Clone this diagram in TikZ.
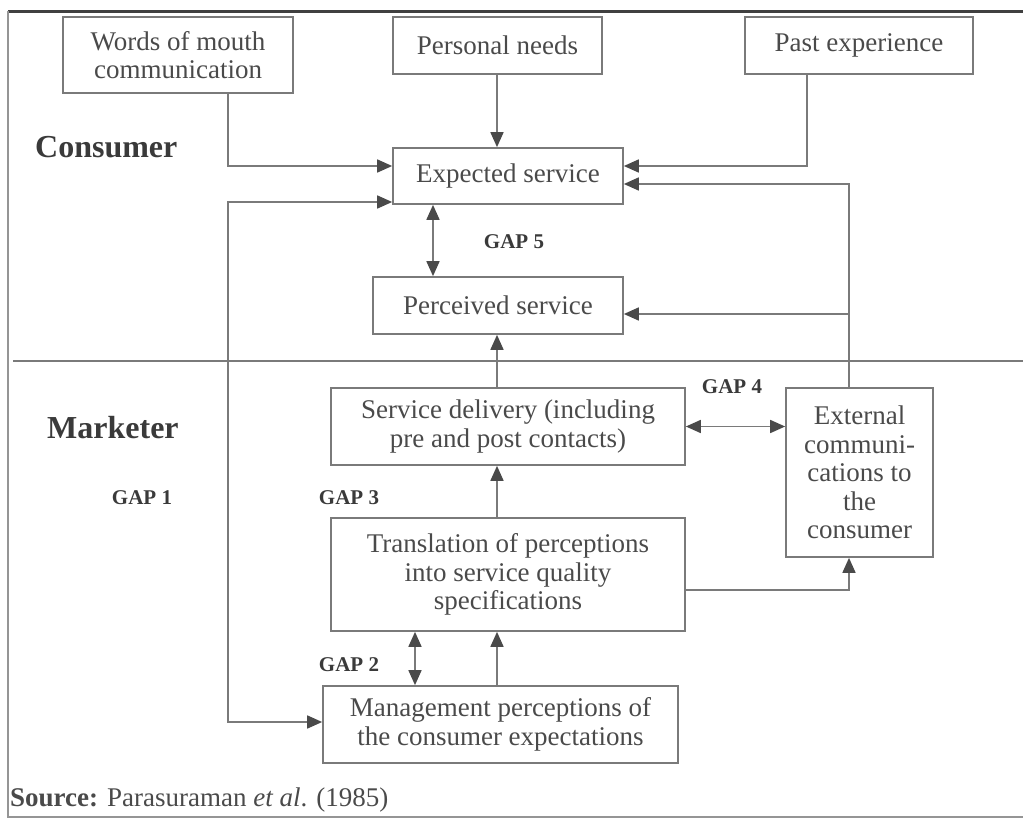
\documentclass[tikz,border=0pt]{standalone}
\usepackage{fontspec}
\setmainfont{Liberation Serif}
\usetikzlibrary{arrows.meta,calc}
\definecolor{boxline}{HTML}{7A7A7A}
\definecolor{txt}{HTML}{4A4A4A}
\definecolor{lbl}{HTML}{3A3A3A}
\definecolor{tip}{HTML}{4A4A4A}
\begin{document}
\begin{tikzpicture}[x=1pt,y=-1pt,
  box/.style={draw=boxline,line width=1.7pt,inner sep=0pt,align=center,text=txt,
    font=\fontsize{27}{28.5}\selectfont},
  lab/.style={text=lbl,font=\fontsize{32}{34}\selectfont\bfseries,inner sep=0pt},
  gap/.style={text=lbl,font=\fontsize{21}{23}\selectfont\bfseries,inner sep=0pt},
  conn/.style={draw=boxline,line width=1.7pt},
  arr/.style={conn,-{Triangle[length=15pt,width=13pt,color=tip]}},
  darr/.style={conn,{Triangle[length=15pt,width=13pt,color=tip]}-{Triangle[length=15pt,width=13pt,color=tip]}}
]
\useasboundingbox (0,0) rectangle (1023,819);
% frame
\draw[line width=3pt,color=black!75] (8,11) -- (1023,11);
\draw[line width=1.4pt,color=boxline!80] (8,11) -- (8,817) -- (1023,817);
\draw[line width=1.4pt,color=boxline] (13,361) -- (1023,361);

% boxes
\node[box,minimum width=230,minimum height=76] (words) at (178,55) {Words of mouth\\communication};
\node[box,minimum width=209,minimum height=57] (personal) at (497.5,45.5) {Personal needs};
\node[box,minimum width=228,minimum height=57] (past) at (859,45.5) {Past experience};
\node[box,minimum width=230,minimum height=56] (expected) at (508,176) {Expected service};
\node[box,minimum width=250,minimum height=57] (perceived) at (498,305.5) {Perceived service};
\node[box,minimum width=354,minimum height=77] (delivery) at (508,426.5) {Service delivery (including\\pre and post contacts)};
\node[box,minimum width=147,minimum height=169] (external) at (859.5,472.5) {External\\communi-\\cations to\\the\\consumer};
\node[box,minimum width=354,minimum height=113] (translation) at (508,574.5) {Translation of perceptions\\into service quality\\specifications};
\node[box,minimum width=355,minimum height=77] (mgmt) at (500.5,724.5) {Management perceptions of\\the consumer expectations};

% labels
\node[lab,anchor=west] (consumer) at (35,147) {Consumer};
\node[lab,anchor=west] (marketer) at (47,428) {Marketer};
\node[gap] (g5) at (514,242) {GAP 5};
\node[gap] (g4) at (732,387) {GAP 4};
\node[gap] (g3) at (349,498) {GAP 3};
\node[gap] (g1) at (142,498) {GAP 1};
\node[gap] (g2) at (349,665) {GAP 2};
\node[anchor=west,inner sep=0pt,text=txt,font=\fontsize{27}{28}\selectfont] (src) at (10,800)
  {\textbf{Source:} Parasuraman \textit{et al}. (1985)};

% helper coordinates
\coordinate (cw) at (228,166);
\coordinate (cg) at (228,202);
\coordinate (cm) at (228,722);
\coordinate (cp) at (807,166);
\coordinate (ce) at (849,184);
\coordinate (cq) at (849,314);
\coordinate (ct) at (849,590);
\coordinate (col) at (497,0);
\coordinate (x5) at (433,0);
\coordinate (x2) at (415,0);

% connectors
\draw[arr] (words.south -| cw) -- (cw) -- (expected.west |- cw);
\draw[arr] (personal.south -| col) -- (expected.north -| col);
\draw[arr] (past.south -| cp) -- (cp) -- (expected.east |- cp);
\draw[arr] (external.north -| ce) -- (ce) -- (expected.east |- ce);
\draw[arr] (cq) -- (perceived.east |- cq);
\draw[darr] (expected.south -| x5) -- (perceived.north -| x5);
\draw[arr] (delivery.north -| col) -- (perceived.south -| col);
\draw[darr] (delivery.east) -- (external.west |- delivery.east);
\draw[arr] (translation.north -| col) -- (delivery.south -| col);
\draw[arr] (translation.east |- ct) -- (ct) -- (external.south -| ct);
\draw[darr] (translation.south -| x2) -- (mgmt.north -| x2);
\draw[arr] (mgmt.north -| col) -- (translation.south -| col);
\draw[darr] (expected.west |- cg) -- (cg) -- (cm) -- (mgmt.west |- cm);
\end{tikzpicture}
\end{document}
